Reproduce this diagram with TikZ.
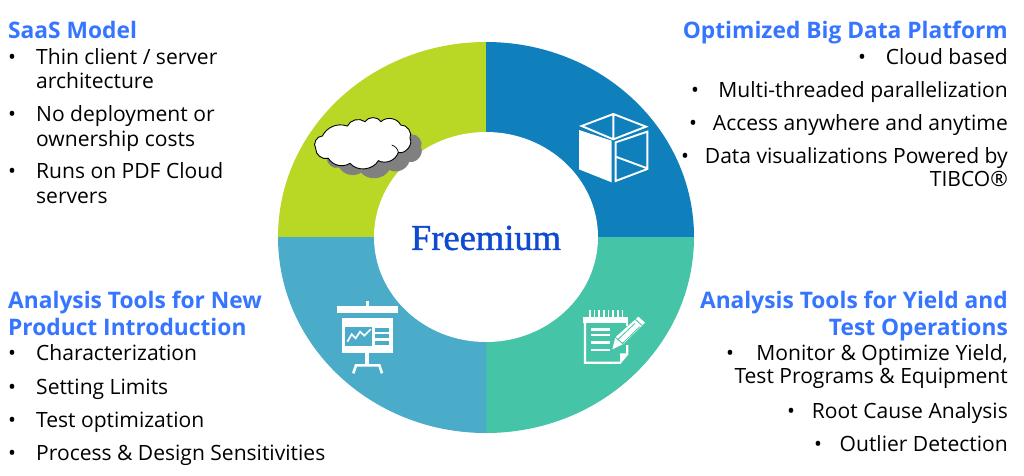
\documentclass[tikz,border=0pt]{standalone}
\usepackage{fontspec}
\setmainfont{Open Sans}
\newfontfamily\serifx[FakeBold=1.2]{Liberation Serif}
\definecolor{cA}{HTML}{B9D725}
\definecolor{cB}{HTML}{0F80BC}
\definecolor{cC}{HTML}{46C4A8}
\definecolor{cD}{HTML}{4AACC9}
\definecolor{head}{HTML}{3575FF}
\definecolor{freem}{HTML}{0F4AD0}
\tikzset{x=1pt,y=1pt,
 headtxt/.style={font=\fontsize{22.75}{22.75}\selectfont\bfseries,text=head,inner sep=0pt},
 lhead/.style={headtxt,anchor=base west},
 rhead/.style={headtxt,anchor=base east},
 bodytxt/.style={font=\fontsize{21.05}{21.05}\selectfont,text=black,inner sep=0pt},
 lbody/.style={bodytxt,anchor=base west},
 rbody/.style={bodytxt,anchor=base east},
 bul/.style={bodytxt,anchor=base},
 iconscope/.style={x=0.33333pt,y=-0.33333pt},
 iconline/.style={draw=white,line width=1.9pt,line join=miter}}
\newcommand{\cloudshape}{(137,355) to[bend left=65] (157,318) to[bend left=40] (232,288) to[bend left=50] (285,275) to[bend left=60] (333,275) to[bend left=55] (392,285) to[bend left=60] (420,325) to[bend left=70] (385,367) to[bend left=50] (325,392) to[bend left=55] (240,400) to[bend left=45] (175,385) to[bend left=55] (137,355) -- cycle}
\begin{document}
\begin{tikzpicture}
\useasboundingbox (0,-475) rectangle (1024,0);
\fill[white] (0,-475) rectangle (1024,0);
% ring
\fill[cA] (278,-237) arc[start angle=180,end angle=90,x radius=208,y radius=195] -- (486,-237) -- cycle;
\fill[cB] (486,-42) arc[start angle=90,end angle=0,x radius=208,y radius=195] -- (486,-237) -- cycle;
\fill[cC] (694,-237) arc[start angle=0,end angle=-90,x radius=208,y radius=196] -- (486,-237) -- cycle;
\fill[cD] (486,-433) arc[start angle=-90,end angle=-180,x radius=208,y radius=196] -- (486,-237) -- cycle;
\fill[white] (486,-237) ellipse[x radius=112,y radius=105];
\node[font=\serifx\fontsize{36.5}{36.5}\selectfont,text=freem,inner sep=0pt] (center) at (486,-238) {Freemium};
% cloud
\begin{scope}[shift={(270,-30)},iconscope]
\fill[black!50] [shift={(33,28)}] \cloudshape;
\draw[fill=white,draw=black,line width=0.9pt] \cloudshape;
\draw[black,line width=0.7pt] (365,345) to[bend left=30] (385,367);
\end{scope}
% cube
\begin{scope}[shift={(540,-90)},iconscope]
\fill[white] (117,120) -- (215,152) -- (215,277) -- (117,238) -- cycle;
\draw[iconline] (125,108) -- (220,72) -- (318,110) -- (220,148) -- cycle (220,72) -- (220,148);
\draw[iconline] (227,157) -- (322,125) -- (322,237) -- (227,273) -- cycle (227,200) -- (322,235);
\end{scope}
% notepad
\begin{scope}[shift={(540,-290)},iconscope]
\draw[iconline,line width=2.2pt] (135,96) -- (135,218) -- (240,218) -- (262,192) -- (262,165);
\draw[iconline,line width=2.2pt] (262,96) -- (262,108);
\fill[white] (130,80) rectangle (265,98);
\foreach \tx in {150,163,177,191,205,219,233,247} \fill[white] (\tx-2.5,60) rectangle (\tx+2.5,84);
\foreach \ly in {118,135,157,180} \fill[white] (153,\ly-4) rectangle (210,\ly+4);
\fill[white] (240,218) -- (240,190) -- (262,190) -- cycle;
\fill[white] (217,178) -- (226,142) -- (295,80) -- (315,98) -- (250,162) -- cycle;
\draw[cC,line width=0.8pt] (232,150) -- (285,100) (246,162) -- (299,110);
\draw[cC,line width=0.9pt] (226,142) -- (250,162) (286,88) -- (306,106);
\end{scope}
% presentation
\begin{scope}[shift={(320,-290)},iconscope]
\fill[white] (50,47) rectangle (233,70);
\fill[white] (139,34) rectangle (147,47);
\fill[white] (65,83) rectangle (218,190);
\fill[cD] (75,110) rectangle (155,168);
\draw[white,line width=1.7pt] (82,155) -- (95,133) -- (107,145) -- (120,125) -- (133,137) -- (152,118);
\fill[cD] (165,113) rectangle (208,125);
\fill[cD] (165,133) rectangle (208,145);
\fill[cD] (165,153) rectangle (208,165);
\fill[white] (136,190) rectangle (147,225);
\draw[white,line width=2.6pt] (100,250) -- (108,226) -- (178,226) -- (186,250);
\end{scope}
% top left
\node[lhead] (h1) at (8,-38) {SaaS Model};
\node[bul] (b11) at (12,-64) {•};
\node[lbody] (t11) at (36,-64) {Thin client / server};
\node[lbody] (t12) at (36,-88) {architecture};
\node[bul] (b12) at (12,-121) {•};
\node[lbody] (t13) at (36,-121) {No deployment or};
\node[lbody] (t14) at (36,-146) {ownership costs};
\node[bul] (b13) at (12,-178) {•};
\node[lbody] (t15) at (36,-178) {Runs on PDF Cloud};
\node[lbody] (t16) at (36,-203) {servers};
% top right
\node[rhead] (h2) at (1008,-38) {Optimized Big Data Platform};
\node[bul] (b21) at (862,-64) {•};
\node[rbody] (t21) at (1008,-64) {Cloud based};
\node[bul] (b22) at (695,-97) {•};
\node[rbody] (t22) at (1008,-97) {Multi-threaded parallelization};
\node[bul] (b23) at (693,-130) {•};
\node[rbody] (t23) at (1008,-130) {Access anywhere and anytime};
\node[bul] (b24) at (685,-163) {•};
\node[rbody] (t24) at (1008,-163) {Data visualizations Powered by};
\node[rbody] (t25) at (1008,-186) {TIBCO®};
% bottom left
\node[lhead] (h3) at (8,-308) {Analysis Tools for New};
\node[lhead] (h3b) at (8,-335) {Product Introduction};
\node[bul] (b31) at (12,-360) {•};
\node[lbody] (t31) at (36,-360) {Characterization};
\node[bul] (b32) at (12,-394) {•};
\node[lbody] (t32) at (36,-394) {Setting Limits};
\node[bul] (b33) at (12,-427) {•};
\node[lbody] (t33) at (36,-427) {Test optimization};
\node[bul] (b34) at (12,-460) {•};
\node[lbody] (t34) at (36,-460) {Process \& Design Sensitivities};
% bottom right
\node[rhead] (h4) at (1008,-308) {Analysis Tools for Yield and};
\node[rhead] (h4b) at (1008,-335) {Test Operations};
\node[bul] (b41) at (730,-360) {•};
\node[rbody] (t41) at (1008,-360) {Monitor \& Optimize Yield,};
\node[rbody] (t42) at (1008,-383) {Test Programs \& Equipment};
\node[bul] (b42) at (791,-418) {•};
\node[rbody] (t43) at (1008,-418) {Root Cause Analysis};
\node[bul] (b43) at (818,-451) {•};
\node[rbody] (t44) at (1008,-451) {Outlier Detection};
\end{tikzpicture}
\end{document}
